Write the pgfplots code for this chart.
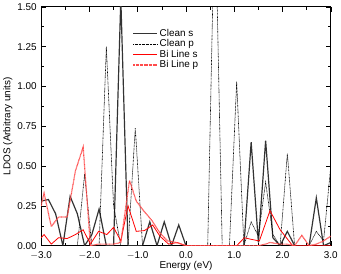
\documentclass[border=0pt]{standalone}
\usepackage{pgfplots}
\pgfplotsset{compat=1.18}
\usepackage{fontspec}
\setmainfont{Liberation Sans}
\begin{document}
\begin{tikzpicture}
\begin{axis}[
  scale only axis,
  width=291bp, height=240bp,
  xmin=-3, xmax=3, ymin=0, ymax=1.5,
  xtick={-3,-2,...,3},
  xticklabels={$-$3.0,$-$2.0,$-$1.0,0.0,1.0,2.0,3.0},
  minor xtick={-2.5,-1.5,...,2.5},
  ytick={0,0.25,0.5,0.75,1.0,1.25,1.5},
  yticklabels={0.00,0.25,0.50,0.75,1.00,1.25,1.50},
  minor ytick={0.125,0.375,...,1.375},
  tick align=inside,
  major tick length=5bp, minor tick length=3bp,
  tick style={black, line width=0.5pt},
  axis line style={line width=0.7pt},
  every tick label/.append style={font=\fontsize{10}{11}\selectfont},
  xticklabel style={yshift=-2.5bp},
  yticklabel style={xshift=-1bp},
  /pgf/number format/assume math mode=true,
  xlabel={Energy (eV)}, ylabel={LDOS (Arbitrary units)},
  label style={font=\fontsize{10}{11}\selectfont},
  xlabel style={yshift=5bp},
  ylabel style={yshift=-2bp},
  legend style={draw=none, fill=none, at={(0.315,0.915)}, anchor=north west,
    font=\fontsize{10}{10}\selectfont, row sep=-2.2pt, inner sep=0pt},
  legend cell align=left,
  legend image code/.code={\draw[#1] (0bp,0bp) -- (24bp,0bp);},
]
\addplot[black!80, line width=1.2pt] coordinates {
(-3.00,0.28) (-2.85,0.29) (-2.70,0.20) (-2.55,0.00) (-2.40,0.31) (-2.25,0.20)
(-2.10,0.00) (-1.95,0.07) (-1.80,0.23) (-1.65,0.00) (-1.50,0.00) (-1.35,1.55)
(-1.20,0.00) (-1.05,0.00) (-0.90,0.00) (-0.75,0.15) (-0.60,0.00) (-0.45,0.15)
(-0.30,0.00) (-0.15,0.13) (0.00,0.00) (0.15,0.00) (0.30,0.00) (0.45,0.00)
(0.60,0.00) (0.75,0.00) (0.90,0.00) (1.05,0.00) (1.20,0.00) (1.35,0.65)
(1.50,0.02) (1.65,0.66) (1.80,0.05) (1.95,0.00) (2.10,0.09) (2.25,0.00)
(2.40,0.00) (2.55,0.00) (2.70,0.30) (2.85,0.00) (3.00,0.02)
};
\addlegendentry{Clean s}
\addplot[black, line width=0.6pt, dash pattern=on 0.8pt off 0.6pt] coordinates {
(-3.00,0.00) (-2.85,0.00) (-2.70,0.00) (-2.55,0.00) (-2.40,0.00) (-2.25,0.00)
(-2.10,0.45) (-1.95,0.00) (-1.80,0.00) (-1.65,1.25) (-1.50,0.25) (-1.35,0.00)
(-1.20,0.00) (-1.05,0.74) (-0.90,0.00) (-0.75,0.00) (-0.60,0.00) (-0.45,0.00)
(-0.30,0.00) (-0.15,0.00) (0.00,0.00) (0.15,0.00) (0.30,0.00) (0.45,0.00)
(0.60,2.20) (0.75,0.00) (0.90,0.00) (1.05,1.03) (1.20,0.00) (1.35,0.15)
(1.50,0.06) (1.65,0.40) (1.80,0.07) (1.95,0.00) (2.10,0.58) (2.25,0.00)
(2.40,0.00) (2.55,0.00) (2.70,0.09) (2.85,0.03) (3.00,0.50)
};
\addlegendentry{Clean p}
\addplot[red, line width=0.8pt] coordinates {
(-3.00,0.05) (-2.94,0.07) (-2.79,0.01) (-2.64,0.05) (-2.46,0.045) (-2.29,0.07)
(-2.13,0.10) (-1.98,0.01) (-1.81,0.09) (-1.64,0.07) (-1.50,0.115) (-1.35,0.03)
(-1.20,0.25) (-1.03,0.09) (-0.86,0.095) (-0.69,0.13) (-0.54,0.06) (-0.36,0.01)
(-0.18,0.02) (0.00,0.00) (0.50,0.00) (1.05,0.00) (1.21,0.05) (1.35,0.04)
(1.52,0.03) (1.74,0.22) (1.95,0.10) (2.21,0.00) (2.60,0.00) (3.00,0.00)
};
\addlegendentry{Bi Line s}
\addplot[red!70, line width=1.2pt, dash pattern=on 0.8pt off 0.5pt] coordinates {
(-3.00,0.25) (-2.94,0.33) (-2.79,0.12) (-2.64,0.18) (-2.46,0.18) (-2.29,0.47)
(-2.13,0.62) (-1.98,0.00) (-1.81,0.01) (-1.64,0.01) (-1.50,0.01) (-1.35,0.02)
(-1.17,0.41) (-1.03,0.28) (-0.88,0.22) (-0.71,0.16) (-0.54,0.08) (-0.38,0.03)
(-0.20,0.02) (0.00,0.00) (0.50,0.00) (1.05,0.00) (1.50,0.00) (1.65,0.01)
(1.74,0.02) (1.95,0.01) (2.10,0.01) (2.25,0.00) (2.40,0.065) (2.55,0.00)
(2.70,0.01) (2.85,0.03) (3.00,0.06)
};
\addlegendentry{Bi Line p}
\end{axis}
\end{tikzpicture}
\end{document}
